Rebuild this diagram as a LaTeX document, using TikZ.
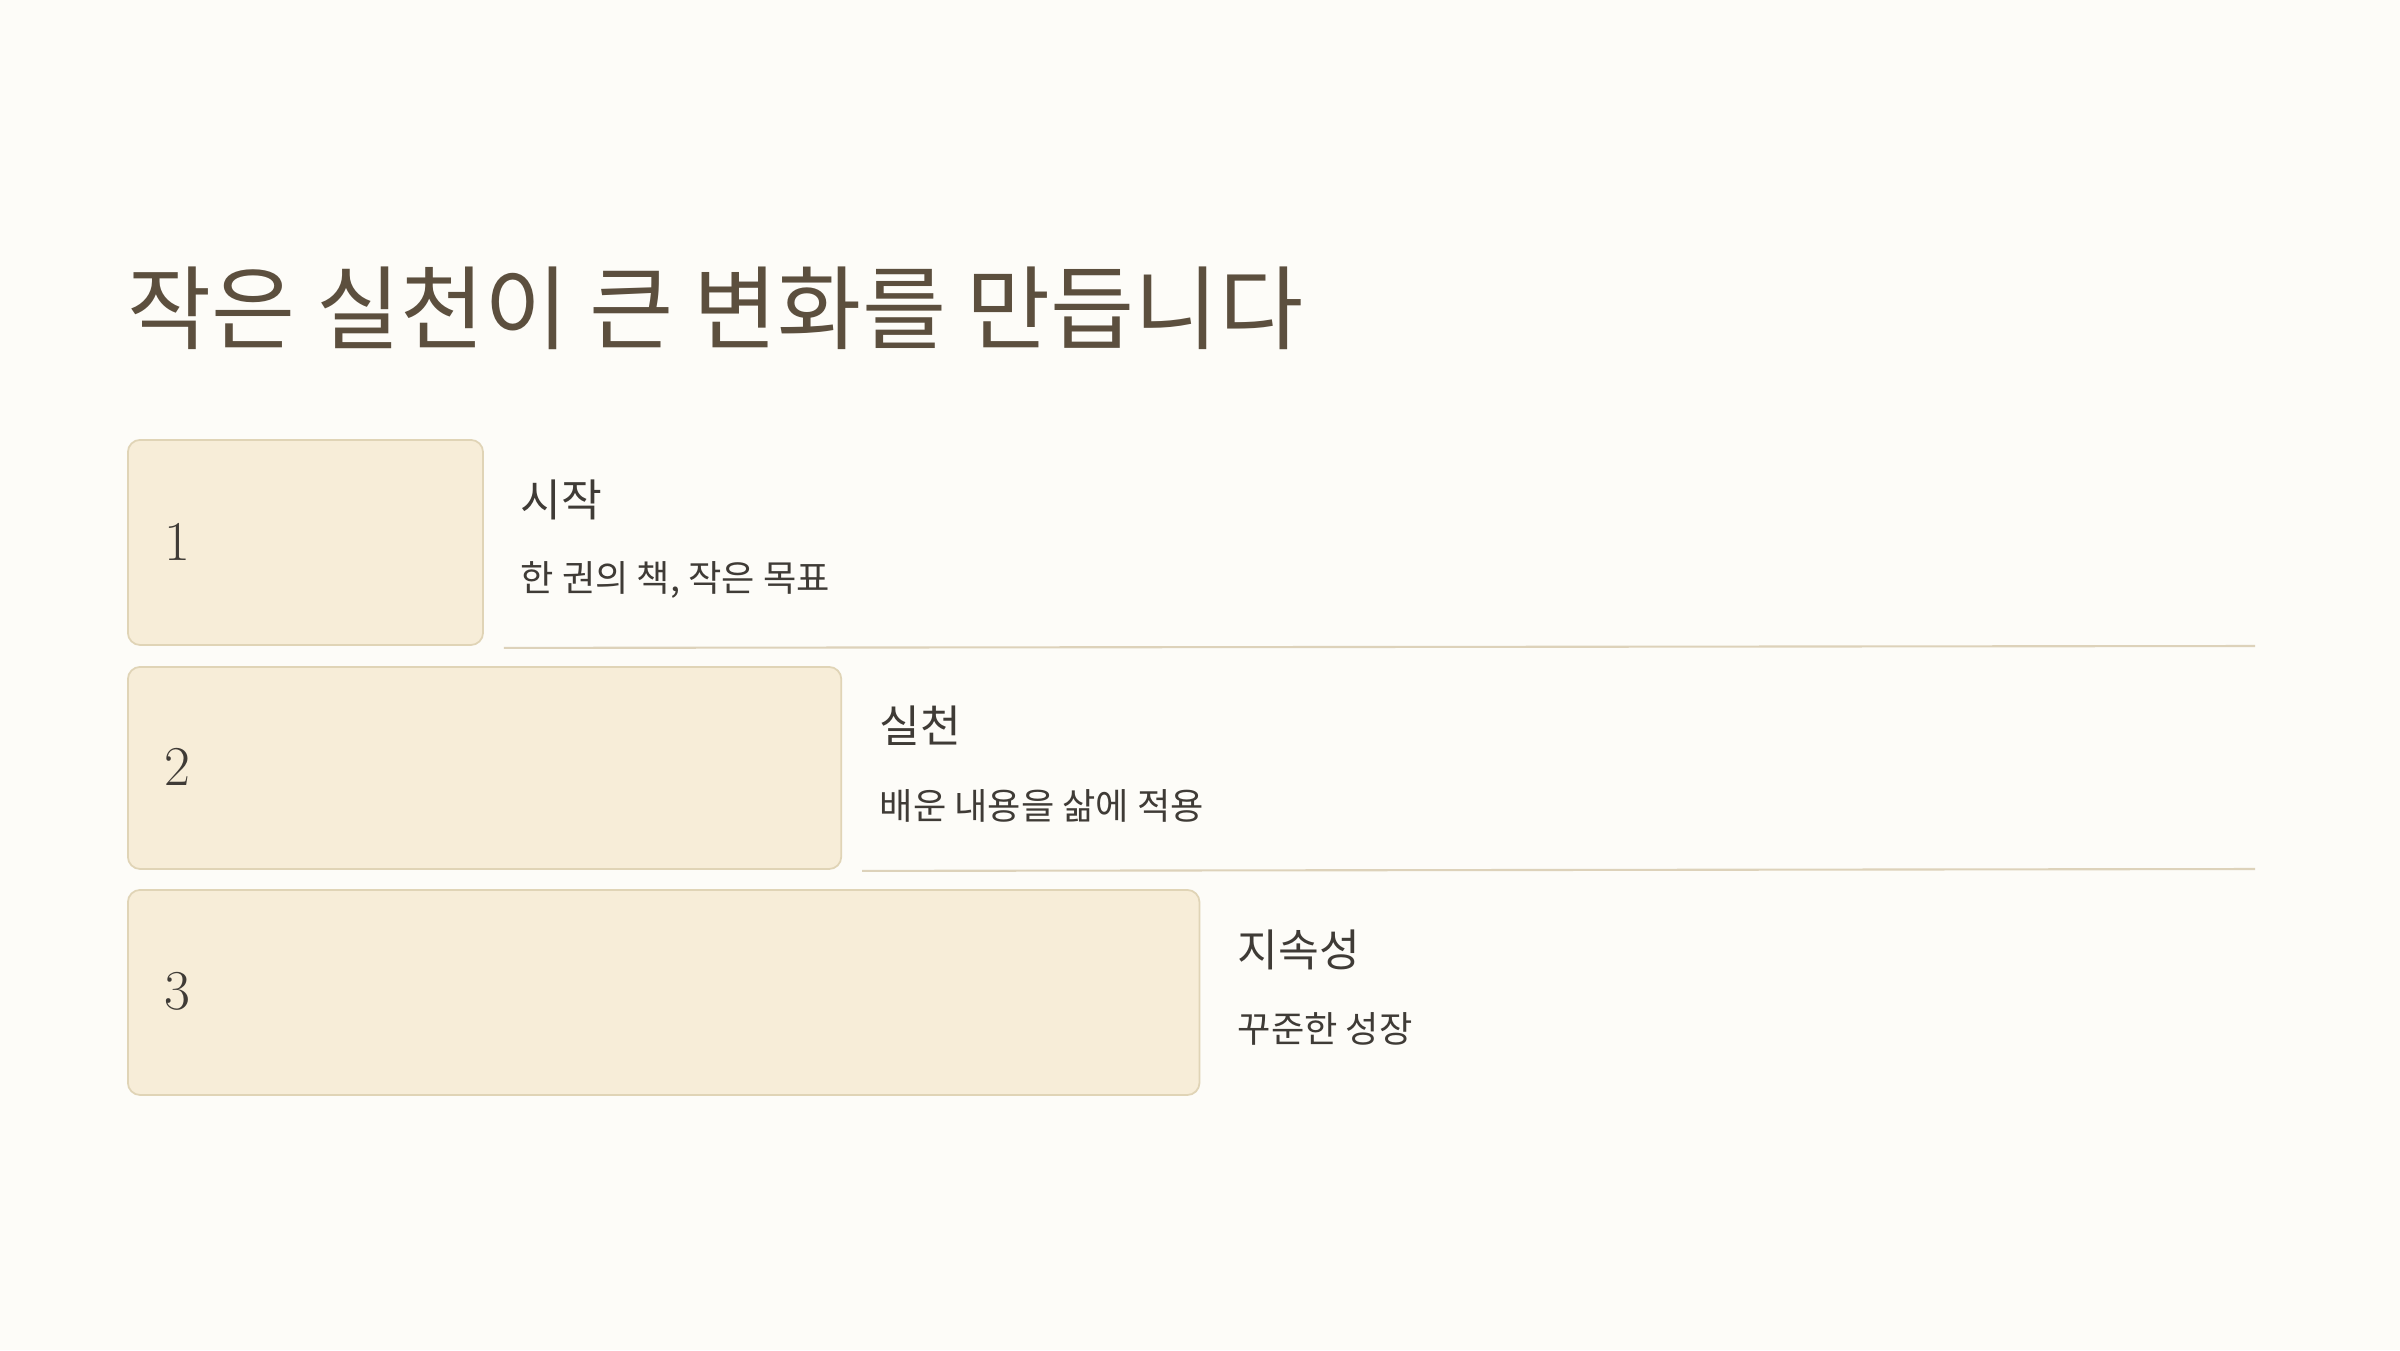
\documentclass[tikz,border=0pt]{standalone}
\usepackage{fontspec}
\newfontfamily\krfont{Noto Sans CJK KR}
\usetikzlibrary{positioning,calc}
\definecolor{pagebg}{HTML}{FDFCF8}
\definecolor{cardfill}{HTML}{F7EDD8}
\definecolor{carddraw}{HTML}{E0D4B6}
\definecolor{titlecol}{HTML}{5C4F3E}
\definecolor{textcol}{HTML}{3F3B36}
\definecolor{rulecol}{HTML}{DDD2BA}
\tikzset{
	stepcard/.style={
			draw=carddraw, fill=cardfill, line width=0.5pt,
			rounded corners=3.5pt, anchor=north west, inner sep=0pt
		},
	stepnum/.style={anchor=west, text=textcol, font=\fontsize{16}{18}\selectfont},
	stephead/.style={anchor=west, text=textcol, inner sep=0pt, font=\krfont\fontsize{12.6}{14}\selectfont},
	stepsub/.style={anchor=west, text=textcol, inner sep=0pt, font=\krfont\fontsize{10.3}{12}\selectfont},
	steprule/.style={draw=rulecol, line width=0.6pt}
}

\begin{document}
\begin{tikzpicture}[x=0.01cm,y=-0.01cm]
	% Background
	\fill[pagebg] (0,0) rectangle (2400,1350);
	% Title
	\node[anchor=west, inner sep=0pt, text=titlecol, font=\krfont\fontsize{26}{30}\selectfont] (title) at (127,308) {작은 실천이 큰 변화를 만듭니다};
	% Cards, growing step by step
	\node[stepcard, minimum width=3.55cm, minimum height=2.05cm] (card1) at (127,439) {};
	\node[stepcard, minimum width=7.13cm, minimum height=2.02cm] (card2) at (127,666) {};
	\node[stepcard, minimum width=10.71cm, minimum height=2.05cm] (card3) at (127,889) {};
	% Numbers
	\node[stepnum] (num1) at (152,542) {1};
	\node[stepnum] (num2) at (152,767) {2};
	\node[stepnum] (num3) at (152,991) {3};
	% Headings and notes
	\node[stephead] (head1) at (520,500) {시작};
	\node[stepsub] (sub1) at (520,580) {한 권의 책, 작은 목표};
	\node[stephead] (head2) at (879,726) {실천};
	\node[stepsub] (sub2) at (879,806) {배운 내용을 삶에 적용};
	\node[stephead] (head3) at (1237,950) {지속성};
	\node[stepsub] (sub3) at (1237,1029) {꾸준한 성장};
	% Separators
	\coordinate (end1) at (2255,646);
	\coordinate (end2) at (2255,869);
	\draw[steprule] ($(card1.south east)+(20,2)$) -- (end1);
	\draw[steprule] ($(card2.south east)+(20,1)$) -- (end2);
\end{tikzpicture}
\end{document}
